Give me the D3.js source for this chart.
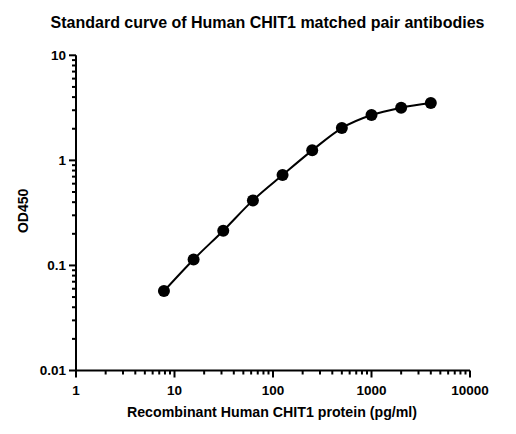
<!DOCTYPE html>
<html>
<head>
<meta charset="utf-8">
<script src="https://cdn.jsdelivr.net/npm/d3@7"></script>
<style>
  body { margin: 0; background: #fff; }
  text { font-family: "Liberation Sans", Arial, sans-serif; font-weight: bold; fill: #000; }
</style>
</head>
<body>
<div id="chart"></div>
<script>
// Data (standard curve)
const concentrations = [7.8125, 15.625, 31.25, 62.5, 125, 250, 500, 1000, 2000, 4000];
const odValues = [0.057, 0.114, 0.214, 0.416, 0.725, 1.245, 2.03, 2.70, 3.17, 3.51];
const xTickValues = [1, 10, 100, 1000, 10000];
const yTickValues = [0.01, 0.1, 1, 10];

const data = concentrations.map((c, i) => ({ conc: c, od: odValues[i] }));

// Set dimensions and margins
const W = 516, H = 434;
const margin = { top: 55.3, right: 46, bottom: 63.5, left: 76 },
    width = W - margin.left - margin.right,
    height = H - margin.top - margin.bottom;

const svg = d3.select("#chart")
  .append("svg")
    .attr("width", W)
    .attr("height", H);

const g = svg.append("g")
    .attr("transform", `translate(${margin.left},${margin.top})`);

const x = d3.scaleLog().domain([1, 10000]).range([0, width]);
const y = d3.scaleLog().domain([0.01, 10]).range([height, 0]);

// minor ticks 2..9 of every decade
const minors = (lo, hi) => {
  const out = [];
  for (let d = lo; d < hi; d *= 10)
    for (let k = 2; k <= 9; k++) out.push(d * k);
  return out;
};

// X axis
const xAxis = g.append("g").attr("transform", `translate(0,${height})`);
xAxis.append("line")
  .attr("x1", 0).attr("x2", width)
  .attr("stroke", "#000").attr("stroke-width", 2);
xAxis.selectAll(".xmaj").data(xTickValues).join("line")
  .attr("x1", d => x(d)).attr("x2", d => x(d))
  .attr("y1", 0).attr("y2", 7)
  .attr("stroke", "#000").attr("stroke-width", 2);
xAxis.selectAll(".xmin").data(minors(1, 10000)).join("line")
  .attr("x1", d => x(d)).attr("x2", d => x(d))
  .attr("y1", 0).attr("y2", 4)
  .attr("stroke", "#000").attr("stroke-width", 2);
xAxis.selectAll("text").data(xTickValues).join("text")
  .attr("x", d => x(d)).attr("y", 24)
  .attr("text-anchor", "middle")
  .style("font-size", "13.5px")
  .text(d => d);

// Y axis
const yAxis = g.append("g");
yAxis.append("line")
  .attr("y1", 0).attr("y2", height)
  .attr("stroke", "#000").attr("stroke-width", 2);
yAxis.selectAll(".ymaj").data(yTickValues).join("line")
  .attr("y1", d => y(d)).attr("y2", d => y(d))
  .attr("x1", 0).attr("x2", -7)
  .attr("stroke", "#000").attr("stroke-width", 2);
yAxis.selectAll(".ymin").data(minors(0.01, 10)).join("line")
  .attr("y1", d => y(d)).attr("y2", d => y(d))
  .attr("x1", 0).attr("x2", -4)
  .attr("stroke", "#000").attr("stroke-width", 2);
yAxis.selectAll("text").data(yTickValues).join("text")
  .attr("x", -10).attr("y", d => y(d) + 4.8)
  .attr("text-anchor", "end")
  .style("font-size", "13.5px")
  .text(d => d);

// Curve
const line = d3.line()
  .x(d => x(d.conc))
  .y(d => y(d.od))
  .curve(d3.curveMonotoneX);
g.append("path")
  .datum(data)
  .attr("d", line)
  .attr("fill", "none")
  .attr("stroke", "#000")
  .attr("stroke-width", 2);

// Points
g.selectAll("circle").data(data).join("circle")
  .attr("cx", d => x(d.conc))
  .attr("cy", d => y(d.od))
  .attr("r", 6)
  .attr("fill", "#000");

// Titles
svg.append("text")
  .attr("x", 267.5).attr("y", 28)
  .attr("text-anchor", "middle")
  .style("font-size", "16px")
  .text("Standard curve of Human CHIT1 matched pair antibodies");

svg.append("text")
  .attr("x", 272).attr("y", 417)
  .attr("text-anchor", "middle")
  .style("font-size", "14.2px")
  .text("Recombinant Human CHIT1 protein (pg/ml)");

svg.append("text")
  .attr("transform", `translate(28,${margin.top + height / 2 - 2}) rotate(-90)`)
  .attr("text-anchor", "middle")
  .style("font-size", "14px")
  .text("OD450");
</script>
</body>
</html>
